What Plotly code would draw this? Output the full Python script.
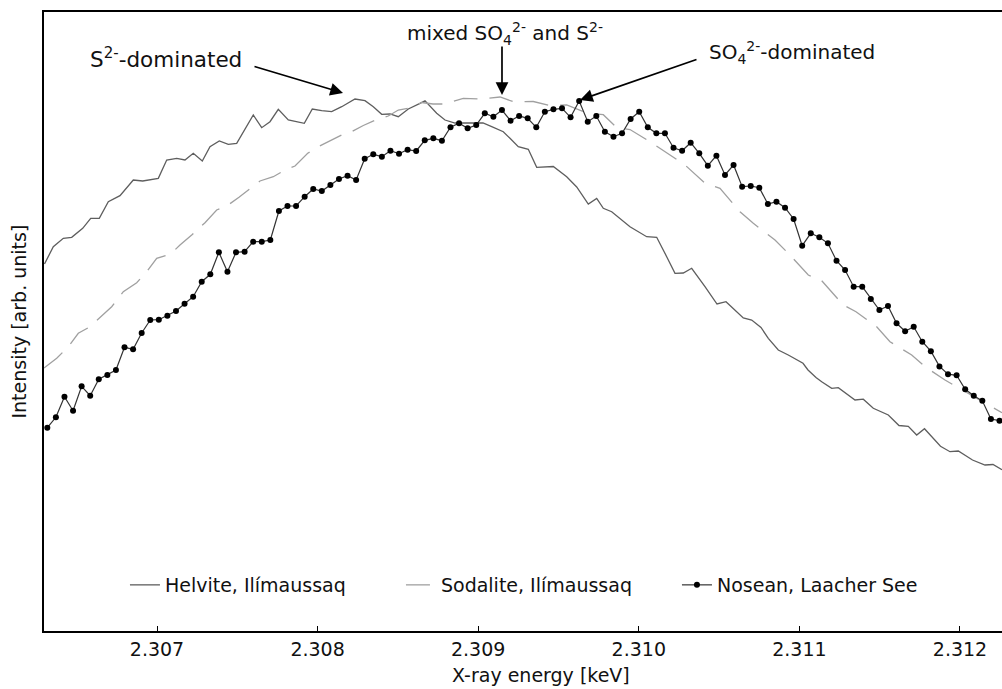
import numpy as np
import plotly.graph_objects as go

FONT = "DejaVu Sans"

# Nosean, Laacher See: equally spaced energy channels (keV) and intensities
nosean_energy = np.linspace(2.306317, 2.312246, 112)
nosean_intensity = [
    203.3, 213.7, 234.3, 220.3, 244.7, 235.3, 251.7, 256.0, 261.0, 283.7,
    281.7, 298.0, 311.0, 311.3, 315.3, 320.0, 327.3, 334.3, 349.3, 356.7,
    378.7, 359.3, 378.7, 379.3, 389.3, 389.3, 391.0, 420.0, 425.0, 425.0,
    434.3, 442.0, 440.0, 446.0, 452.0, 455.3, 451.0, 472.3, 476.7, 474.3,
    480.3, 477.3, 481.3, 480.0, 490.7, 492.7, 490.3, 503.7, 507.7, 502.7,
    506.0, 517.7, 514.3, 521.0, 510.3, 515.0, 512.7, 503.7, 519.3, 521.7,
    522.7, 513.7, 530.0, 509.3, 515.0, 499.3, 494.3, 497.7, 512.0, 519.3,
    503.7, 497.7, 497.7, 483.3, 480.3, 488.3, 477.7, 465.3, 475.3, 456.0,
    466.0, 444.3, 445.0, 443.3, 427.0, 429.3, 423.3, 412.0, 385.3, 397.7,
    393.7, 387.7, 370.3, 361.0, 344.3, 344.3, 332.0, 321.0, 325.0, 307.7,
    299.8, 304.2, 289.3, 279.8, 264.6, 256.8, 255.7, 241.7, 235.3, 230.2,
    212.0, 210.3,
]

# Helvite, Ilímaussaq
helvite_energy = [
    2.3062995, 2.3063543, 2.3064166, 2.3064689, 2.3065374, 2.3065872, 2.3066407,
    2.3066968, 2.3067696, 2.3068524, 2.3069110, 2.3070081, 2.3070604, 2.3071227,
    2.3071743, 2.3072260, 2.3072821, 2.3073300, 2.3073879, 2.3074440, 2.3074963,
    2.3075996, 2.3076519, 2.3077036, 2.3077553, 2.3078176, 2.3079172, 2.3079670,
    2.3080255, 2.3080878, 2.3081501, 2.3082329, 2.3082952, 2.3083469, 2.3083991,
    2.3084508, 2.3085025, 2.3085648, 2.3086376, 2.3086688, 2.3087416, 2.3087933,
    2.3088556, 2.3089490, 2.3090299, 2.3090841, 2.3091563, 2.3091980, 2.3092497,
    2.3093120, 2.3093643, 2.3094677, 2.3095511, 2.3096134, 2.3096856, 2.3097379,
    2.3097790, 2.3098313, 2.3098830, 2.3099452, 2.3100492, 2.3101115, 2.3101737,
    2.3102254, 2.3102771, 2.3103294, 2.3104122, 2.3104870, 2.3105430, 2.3105990,
    2.3106507, 2.3107030, 2.3107609, 2.3108064, 2.3108687, 2.3109309, 2.3110225,
    2.3110536, 2.3111034, 2.3111389, 2.3112012, 2.3112423, 2.3113462, 2.3113979,
    2.3114602, 2.3115536, 2.3116202, 2.3116781, 2.3117304, 2.3117790, 2.3118786,
    2.3119378, 2.3119895, 2.3120779, 2.3121557, 2.3122055, 2.3122616,
]
helvite_intensity = [
    367.0, 384.3, 392.7, 393.7, 402.7, 412.7, 412.7, 429.3, 435.3, 451.0,
    450.0, 452.7, 471.0, 472.7, 471.0, 477.7, 470.0, 484.3, 490.0, 486.7,
    487.7, 516.0, 503.3, 509.3, 521.7, 511.0, 507.7, 522.0, 520.3, 519.3,
    524.3, 532.0, 530.3, 524.3, 516.7, 517.0, 514.3, 522.0, 527.7, 530.3,
    517.7, 511.0, 508.0, 508.0, 508.0, 504.3, 499.3, 492.7, 484.3, 481.7,
    463.7, 464.5, 454.3, 444.0, 427.0, 432.5, 422.7, 419.3, 412.7, 404.3,
    394.3, 393.7, 374.3, 357.7, 358.0, 362.7, 344.3, 327.0, 329.3, 321.0,
    313.0, 311.0, 303.5, 292.7, 281.0, 276.0, 267.7, 261.0, 253.5, 249.3,
    242.7, 243.3, 231.0, 231.8, 222.7, 216.0, 205.5, 204.7, 196.0, 202.3,
    184.7, 179.3, 180.0, 171.0, 166.0, 166.5, 161.3,
]

# Sodalite, Ilímaussaq
sodalite_energy = [
    2.3062964, 2.3063755, 2.3064477, 2.3065100, 2.3065828, 2.3066557, 2.3067179,
    2.3067902, 2.3068736, 2.3069359, 2.3069981, 2.3070853, 2.3071432, 2.3072161,
    2.3072989, 2.3073717, 2.3074340, 2.3075106, 2.3075791, 2.3076414, 2.3077242,
    2.3077970, 2.3078593, 2.3079384, 2.3080044, 2.3080710, 2.3081501, 2.3082123,
    2.3082846, 2.3083680, 2.3084402, 2.3085025, 2.3085648, 2.3086482, 2.3087186,
    2.3087933, 2.3089072, 2.3090112, 2.3091358, 2.3092186, 2.3093431, 2.3094471,
    2.3095511, 2.3096756, 2.3097790, 2.3098624, 2.3099452, 2.3100698, 2.3102049,
    2.3102877, 2.3104122, 2.3105056, 2.3106302, 2.3107130, 2.3108481, 2.3109309,
    2.3110554, 2.3111389, 2.3112734, 2.3113525, 2.3114813, 2.3115642, 2.3116993,
    2.3117821, 2.3119066, 2.3119895, 2.3121451, 2.3122074, 2.3122616,
]
sodalite_intensity = [
    263.0, 272.7, 284.3, 297.7, 304.3, 315.0, 324.3, 339.3, 348.3, 359.3,
    372.7, 377.0, 386.0, 396.0, 408.3, 421.0, 425.0, 433.7, 442.0, 450.0,
    454.3, 461.0, 465.0, 477.7, 484.3, 489.3, 496.0, 499.3, 505.5, 511.5,
    515.0, 521.0, 522.7, 528.5, 527.0, 527.0, 532.7, 532.0, 534.0, 529.3,
    529.5, 525.5, 526.0, 518.0, 516.3, 503.5, 501.5, 489.3, 474.3, 466.0,
    447.7, 442.7, 419.3, 407.7, 391.0, 377.7, 356.0, 350.3, 326.0, 319.3,
    304.3, 289.3, 276.0, 264.3, 251.0, 243.3, 229.3, 222.7, 218.3,
]

tick_values = [2.307, 2.308, 2.309, 2.310, 2.311, 2.312]
tick_labels = ["2.307", "2.308", "2.309", "2.310", "2.311", "2.312"]

fig = go.Figure()
fig.add_trace(go.Scatter(
    x=helvite_energy, y=helvite_intensity, mode="lines",
    name="Helvite, Ilímaussaq",
    line=dict(color="#5e5e5e", width=1.3),
))
fig.add_trace(go.Scatter(
    x=sodalite_energy, y=sodalite_intensity, mode="lines",
    name="Sodalite, Ilímaussaq",
    line=dict(color="#a0a0a0", width=1.3, dash="24px,12px"),
))
fig.add_trace(go.Scatter(
    x=nosean_energy, y=nosean_intensity, mode="lines+markers",
    name="Nosean, Laacher See",
    line=dict(color="#333333", width=1.2),
    marker=dict(color="black", size=6),
))

# labelled arrows marking the three peak positions
arrows = [
    dict(x=2.3081582, y=538, ax=-90, ay=-27),
    dict(x=2.3091482, y=536, ax=0, ay=-50),
    dict(x=2.3096339, y=531, ax=118, ay=-41),
]
for a in arrows:
    fig.add_annotation(
        x=a["x"], y=a["y"], ax=a["ax"], ay=a["ay"], axref="pixel", ayref="pixel",
        text="", showarrow=True, arrowhead=2, arrowsize=1.5, arrowwidth=1.7,
        arrowcolor="black", standoff=0,
    )

labels = [
    dict(x=2.307053, y=573, text="S<sup>2-</sup>-dominated", size=21.5),
    dict(x=2.309167, y=598, text="mixed SO<sub>4</sub><sup>2-</sup> and S<sup>2-</sup>", size=20),
    dict(x=2.310954, y=579, text="SO<sub>4</sub><sup>2-</sup>-dominated", size=20),
]
for lab in labels:
    fig.add_annotation(
        x=lab["x"], y=lab["y"], text=lab["text"], showarrow=False,
        xanchor="center", yanchor="middle",
        font=dict(family=FONT, size=lab["size"], color="#111111"),
    )

# axis titles
fig.add_annotation(
    xref="paper", yref="paper", x=0.5188, y=-0.0711, text="X-ray energy [keV]",
    showarrow=False, xanchor="center", yanchor="middle",
    font=dict(family=FONT, size=19, color="#111111"),
)
fig.add_annotation(
    xref="paper", yref="paper", x=-0.0271, y=0.5, text="Intensity [arb. units]",
    showarrow=False, textangle=-90, xanchor="center", yanchor="middle",
    font=dict(family=FONT, size=19, color="#111111"),
)

fig.update_layout(
    width=1002, height=689,
    margin=dict(l=44, r=0, t=12, b=58, pad=0),
    paper_bgcolor="white", plot_bgcolor="white",
    font=dict(family=FONT, size=19, color="#111111"),
    showlegend=True,
    legend=dict(
        orientation="h", x=0.0845, y=0.0743, xanchor="left", yanchor="middle",
        entrywidth=231, entrywidthmode="pixels",
        bgcolor="rgba(0,0,0,0)", borderwidth=0,
        font=dict(family=FONT, size=19, color="#111111"),
    ),
    xaxis=dict(
        range=[2.3062964, 2.3122616], tickvals=tick_values, ticktext=tick_labels,
        ticks="inside", ticklen=5, tickwidth=1.2, tickcolor="black",
        showline=True, linecolor="black", linewidth=2, mirror=True,
        showgrid=False, zeroline=False,
        tickfont=dict(family=FONT, size=19, color="#111111"),
    ),
    yaxis=dict(
        range=[0, 619], showline=True, linecolor="black", linewidth=2,
        showticklabels=False, ticks="", showgrid=False, zeroline=False,
    ),
)

fig.write_html("out.html")
